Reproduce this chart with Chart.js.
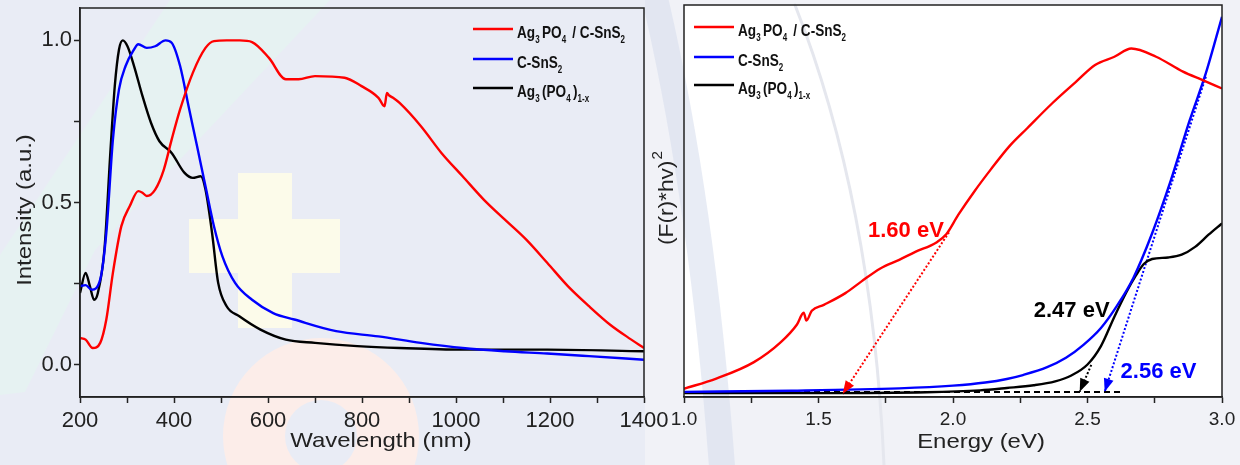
<!DOCTYPE html>
<html>
<head>
<meta charset="utf-8">
<script src="https://cdn.jsdelivr.net/npm/chart.js@4.4.1/dist/chart.umd.min.js"></script>
<style>
  html, body { margin: 0; padding: 0; background: #e9ecf5; }
  #wrap { position: relative; width: 1240px; height: 465px; overflow: hidden; }
  #left { position: absolute; left: 0; top: 0; z-index: 2; }
  #right { position: absolute; left: 645px; top: 0; z-index: 1; }
</style>
</head>
<body>
<div id="wrap">
  <canvas id="right" width="595" height="465"></canvas>
  <canvas id="left" width="680" height="465"></canvas>
</div>
<script>
// ---- left panel: absorption spectra ----
const wlTicks = [200, 300, 400, 500, 600, 700, 800, 900, 1000, 1100, 1200, 1300, 1400]
const wlLabels = ['200', '400', '600', '800', '1000', '1200', '1400']
const intTicks = [0, 0.25, 0.5, 0.75, 1.0]
const intLabels = ['0.0', '0.5', '1.0']

const redWl = [200, 212, 227, 243, 256, 270, 288, 306, 324, 333, 342, 360, 378, 395, 413, 440, 467, 485, 512, 540, 566, 602, 638, 665, 700, 763, 799, 835, 848, 853, 858, 866, 880, 925, 969, 1014, 1059, 1104, 1149, 1194, 1238, 1283, 1328, 1373, 1400]
const redI = [0.082, 0.077, 0.051, 0.067, 0.139, 0.283, 0.427, 0.489, 0.535, 0.53, 0.52, 0.54, 0.60, 0.694, 0.787, 0.90, 0.977, 0.998, 1.0, 1.0, 0.995, 0.946, 0.88, 0.88, 0.89, 0.885, 0.859, 0.823, 0.797, 0.838, 0.83, 0.823, 0.807, 0.736, 0.653, 0.581, 0.509, 0.447, 0.386, 0.314, 0.242, 0.18, 0.123, 0.077, 0.051]

const blueWl = [200, 212, 225, 243, 256, 270, 283, 297, 315, 324, 342, 360, 382, 395, 413, 431, 449, 467, 485, 503, 530, 566, 611, 656, 745, 835, 925, 1014, 1104, 1194, 1283, 1400]
const blueI = [0.242, 0.245, 0.231, 0.262, 0.406, 0.694, 0.849, 0.921, 0.972, 0.988, 0.977, 0.982, 1.0, 0.993, 0.921, 0.797, 0.674, 0.55, 0.427, 0.334, 0.252, 0.2, 0.159, 0.139, 0.103, 0.087, 0.067, 0.051, 0.041, 0.034, 0.026, 0.015]

const blackWl = [200, 212, 221, 230, 238, 252, 265, 274, 283, 291, 301, 315, 333, 351, 369, 395, 422, 440, 457, 467, 481, 494, 512, 539, 584, 638, 700, 790, 880, 1014, 1194, 1400]
const blackI = [0.221, 0.283, 0.242, 0.2, 0.221, 0.355, 0.664, 0.859, 0.972, 1.0, 0.982, 0.921, 0.828, 0.746, 0.689, 0.653, 0.592, 0.576, 0.581, 0.54, 0.406, 0.252, 0.18, 0.149, 0.108, 0.077, 0.067, 0.057, 0.051, 0.046, 0.046, 0.041]

// ---- right panel: Tauc plot ----
const eTicks = [1.0, 1.25, 1.5, 1.75, 2.0, 2.25, 2.5, 2.75, 3.0]
const eLabels = ['1.0', '1.5', '2.0', '2.5', '3.0']

const redE = [1.0, 1.12, 1.26, 1.36, 1.42, 1.445, 1.455, 1.475, 1.52, 1.6, 1.66, 1.73, 1.8, 1.86, 1.94, 1.975, 2.02, 2.08, 2.14, 2.21, 2.275, 2.37, 2.457, 2.528, 2.6, 2.663, 2.755, 2.855, 2.926, 3.0]
const redF = [2.1, 4.7, 8.9, 14, 18.5, 21.5, 19.5, 22, 23.5, 26.5, 29.5, 32.8, 35, 37, 39.5, 41.5, 46.5, 52.5, 58, 64, 68.5, 75, 80.4, 84.7, 86.8, 88.9, 86.8, 83, 80.9, 78.7]

const blueE = [1.0, 1.4, 1.8, 2.0, 2.12, 2.2, 2.26, 2.35, 2.42, 2.485, 2.55, 2.61, 2.67, 2.74, 2.81, 2.88, 2.94, 3.0]
const blueF = [1.3, 1.6, 2.2, 2.9, 3.7, 4.6, 5.6, 7.6, 10, 13.3, 17.6, 23.3, 30.3, 41.7, 55.3, 70.6, 82.6, 97]

const blackE = [1.0, 1.5, 1.9, 2.1, 2.2, 2.3, 2.38, 2.44, 2.5, 2.55, 2.6, 2.645, 2.68, 2.71, 2.74, 2.8, 2.85, 2.9, 2.95, 3.0]
const blackF = [1.0, 1.0, 1.2, 1.7, 2.3, 3.0, 4.0, 5.5, 8.3, 13, 20.5, 26.8, 31, 34, 35.2, 35.6, 36.3, 38.3, 41.4, 44.3]

// tangent lines (start -> arrow tip) and baseline
const redFitE = [1.985, 1.59], redFitF = [42, 0.8]
const blueFitE = [2.94, 2.564], blueFitF = [81.7, 1.35]
const blackFitE = [2.514, 2.471], blackFitF = [8.2, 1.35]
const baseE = [1.0, 2.63], baseF = [1.3, 1.3]

const gapLabels = ['1.60 eV', '2.47 eV', '2.56 eV']
const gapLabelE = [1.825, 2.441, 2.764]
const gapLabelF = [40.8, 20.4, 4.85]

const RED = '#ff0000', BLUE = '#0000ff', BLACK = '#000000'
const SANS = "'Liberation Sans', Arial, sans-serif"

// legend text: [text, isSubscript]
const legendParts = [
  [['Ag', 0], ['3', 1], ['PO', 0], ['4', 1], [' / C-SnS', 0], ['2', 1]],
  [['C-SnS', 0], ['2', 1]],
  [['Ag', 0], ['3', 1], ['(PO', 0], ['4', 1], [')', 0], ['1-x', 1]]
]
const legendColors = [RED, BLUE, BLACK]

function pts(xs, ys) { return xs.map((x, i) => ({ x: x, y: ys[i] })) }

// bold condensed text with subscripts
function richText(ctx, parts, x, y, size, color) {
  ctx.save()
  ctx.translate(x, y)
  ctx.scale(0.8, 1)
  ctx.fillStyle = color
  ctx.textAlign = 'left'
  ctx.textBaseline = 'alphabetic'
  let cx = 0
  parts.forEach(([t, sub]) => {
    const s = sub ? Math.round(size * 0.6) : size
    ctx.font = 'bold ' + s + 'px ' + SANS
    ctx.fillText(t, cx, sub ? 5 : 0)
    cx += ctx.measureText(t).width + (sub ? 3 : 0)
  })
  ctx.restore()
}

function drawLegend(ctx, x0, rows) {
  rows.forEach((y, i) => {
    ctx.strokeStyle = legendColors[i]
    ctx.lineWidth = 2.5
    ctx.beginPath(); ctx.moveTo(x0, y); ctx.lineTo(x0 + 40, y); ctx.stroke()
    richText(ctx, legendParts[i], x0 + 44, y + 9, 17, '#111')
  })
}

function stretchedText(ctx, text, x, y, size, rot) {
  ctx.save()
  ctx.translate(x, y)
  if (rot) ctx.rotate(-Math.PI / 2)
  ctx.scale(1.14, 1)
  ctx.font = size + 'px ' + SANS
  ctx.fillStyle = '#222'
  ctx.textAlign = 'center'
  ctx.textBaseline = 'alphabetic'
  ctx.fillText(text, 0, 0)
  ctx.restore()
}

function frame(chart) {
  const ctx = chart.ctx, a = chart.chartArea
  ctx.save()
  ctx.strokeStyle = '#222'
  ctx.lineWidth = 1.5
  ctx.strokeRect(a.left, a.top, a.right - a.left, a.bottom - a.top)
  ctx.restore()
}

function xAxis(min, max, ticks, labels, size, pad) {
  return {
    type: 'linear', min: min, max: max,
    afterBuildTicks: s => { s.ticks = ticks.map(v => ({ value: v })) },
    afterFit: s => { s.height = 68; s.paddingLeft = 0; s.paddingRight = 0 },
    ticks: {
      autoSkip: false, maxRotation: 0, padding: pad, color: '#222',
      font: { family: SANS, size: size },
      callback: v => {
        const t = Number.isInteger(v) && v >= 100 ? String(v) : v.toFixed(1)
        return labels.includes(t) ? t : ''
      }
    },
    grid: { drawOnChartArea: false, tickLength: 6, tickColor: '#222', tickWidth: 1.5 },
    border: { display: true, color: '#222', width: 1.5 }
  }
}

// ---------- left chart ----------
const leftDeco = {
  id: 'leftDeco',
  beforeDraw(chart) {
    const ctx = chart.ctx
    ctx.save()
    // faint watermark shapes
    ctx.fillStyle = '#e6f2f2'
    ctx.beginPath()
    ctx.moveTo(170, 0); ctx.lineTo(330, 0); ctx.lineTo(95, 250); ctx.lineTo(25, 392)
    ctx.lineTo(0, 395); ctx.lineTo(0, 255); ctx.closePath(); ctx.fill()
    ctx.fillStyle = '#fcfbea'
    ctx.fillRect(238, 173, 54, 155)
    ctx.fillRect(189, 219, 151, 54)
    ctx.fillStyle = '#fcede9'
    ctx.beginPath()
    ctx.arc(321, 436, 98, 0, Math.PI * 2)
    ctx.arc(321, 436, 36, 0, Math.PI * 2, true)
    ctx.fill()
    ctx.restore()
  },
  afterDraw(chart) {
    const ctx = chart.ctx
    frame(chart)
    stretchedText(ctx, 'Wavelength (nm)', 381, 447, 21, false)
    stretchedText(ctx, 'Intensity (a.u.)', 31, 210, 21, true)
    drawLegend(ctx, 473, [29, 59, 88])
  }
}

new Chart(document.getElementById('left'), {
  type: 'line',
  data: {
    datasets: [
      { label: 'Ag3PO4 / C-SnS2', data: pts(redWl, redI), borderColor: RED },
      { label: 'C-SnS2', data: pts(blueWl, blueI), borderColor: BLUE },
      { label: 'Ag3(PO4)1-x', data: pts(blackWl, blackI), borderColor: BLACK }
    ]
  },
  options: {
    responsive: false, animation: false, devicePixelRatio: 1,
    layout: { padding: { left: 0, right: 36, top: 8, bottom: 0 } },
    elements: { point: { radius: 0 }, line: { borderWidth: 2.4, cubicInterpolationMode: 'monotone' } },
    plugins: { legend: { display: false }, tooltip: { enabled: false } },
    scales: {
      x: xAxis(200, 1400, wlTicks, wlLabels, 22, 5),
      y: {
        type: 'linear', min: -0.1, max: 1.1,
        afterBuildTicks: s => { s.ticks = intTicks.map(v => ({ value: v })) },
        afterFit: s => { s.width = 80; s.paddingTop = 0; s.paddingBottom = 0 },
        ticks: {
          padding: 2, color: '#222', font: { family: SANS, size: 22 },
          callback: v => intLabels.includes(v.toFixed(1)) ? v.toFixed(1) : ''
        },
        grid: { drawOnChartArea: false, tickLength: 6, tickColor: '#222', tickWidth: 1.5 },
        border: { display: true, color: '#222', width: 1.5 }
      }
    }
  },
  plugins: [leftDeco]
})

// ---------- right chart ----------
const rightDeco = {
  id: 'rightDeco',
  beforeDraw(chart) {
    const ctx = chart.ctx, a = chart.chartArea
    ctx.save()
    ctx.fillStyle = '#f1f2f7'
    ctx.fillRect(0, 0, chart.width, chart.height)
    ctx.fillStyle = '#ffffff'
    ctx.fillRect(a.left, a.top, a.right - a.left, a.bottom - a.top)
    ctx.lineCap = 'round'
    ctx.strokeStyle = 'rgba(214,220,236,0.55)'
    ctx.lineWidth = 26
    ctx.beginPath(); ctx.moveTo(8, -10); ctx.quadraticCurveTo(58, 200, 78, 480); ctx.stroke()
    ctx.strokeStyle = '#e5e7ee'
    ctx.lineWidth = 3
    ctx.beginPath(); ctx.moveTo(150, 5); ctx.quadraticCurveTo(227, 200, 239, 465); ctx.stroke()
    ctx.restore()
  },
  afterDatasetsDraw(chart) {
    const ctx = chart.ctx
    chart.data.datasets.forEach((ds, i) => {
      if (!ds.arrow) return
      const d = chart.getDatasetMeta(i).data
      const p1 = d[d.length - 2], p2 = d[d.length - 1]
      const ang = Math.atan2(p2.y - p1.y, p2.x - p1.x)
      ctx.save()
      ctx.translate(p2.x, p2.y)
      ctx.rotate(ang)
      ctx.fillStyle = ds.borderColor
      ctx.beginPath(); ctx.moveTo(0, 0); ctx.lineTo(-13, -5); ctx.lineTo(-13, 5); ctx.closePath(); ctx.fill()
      ctx.restore()
    })
  },
  afterDraw(chart) {
    const ctx = chart.ctx, sx = chart.scales.x, sy = chart.scales.y
    frame(chart)
    stretchedText(ctx, 'Energy (eV)', 981 - 645, 448, 21, false)
    // y title with superscript
    ctx.save()
    ctx.translate(673 - 645, 245)
    ctx.rotate(-Math.PI / 2)
    ctx.scale(1.08, 1)
    ctx.fillStyle = '#222'
    ctx.textAlign = 'left'
    ctx.textBaseline = 'alphabetic'
    ctx.font = '21px ' + SANS
    ctx.fillText('(F(r)*hv)', 0, 0)
    const w = ctx.measureText('(F(r)*hv)').width
    ctx.font = '14px ' + SANS
    ctx.fillText('2', w + 1, -11)
    ctx.restore()
    drawLegend(ctx, 694 - 645, [27, 57, 85])
    const cols = [RED, BLACK, BLUE]
    ctx.save()
    ctx.font = 'bold 22px ' + SANS
    ctx.textAlign = 'center'
    ctx.textBaseline = 'alphabetic'
    gapLabels.forEach((t, i) => {
      ctx.fillStyle = cols[i]
      ctx.fillText(t, sx.getPixelForValue(gapLabelE[i]), sy.getPixelForValue(gapLabelF[i]))
    })
    ctx.restore()
  }
}

new Chart(document.getElementById('right'), {
  type: 'line',
  data: {
    datasets: [
      { label: 'Ag3PO4 / C-SnS2', data: pts(redE, redF), borderColor: RED },
      { label: 'C-SnS2', data: pts(blueE, blueF), borderColor: BLUE },
      { label: 'Ag3(PO4)1-x', data: pts(blackE, blackF), borderColor: BLACK },
      { label: 'baseline', data: pts(baseE, baseF), borderColor: BLACK, borderDash: [6, 4], borderWidth: 2, tension: 0, cubicInterpolationMode: 'default' },
      { label: 'fit1', data: pts(redFitE, redFitF), borderColor: RED, borderDash: [2, 2], borderWidth: 2, arrow: true, tension: 0, cubicInterpolationMode: 'default' },
      { label: 'fit2', data: pts(blueFitE, blueFitF), borderColor: BLUE, borderDash: [2, 2], borderWidth: 2, arrow: true, tension: 0, cubicInterpolationMode: 'default' },
      { label: 'fit3', data: pts(blackFitE, blackFitF), borderColor: BLACK, borderDash: [2, 2], borderWidth: 2, arrow: true, tension: 0, cubicInterpolationMode: 'default' }
    ]
  },
  options: {
    responsive: false, animation: false, devicePixelRatio: 1,
    layout: { padding: { left: 39, right: 18, top: 5, bottom: 0 } },
    elements: { point: { radius: 0 }, line: { borderWidth: 2.4, cubicInterpolationMode: 'monotone' } },
    plugins: { legend: { display: false }, tooltip: { enabled: false } },
    scales: {
      x: xAxis(1.0, 3.0, eTicks, eLabels, 19, 5),
      y: { type: 'linear', min: 0, max: 100, display: false }
    }
  },
  plugins: [rightDeco]
})
</script>
</body>
</html>
